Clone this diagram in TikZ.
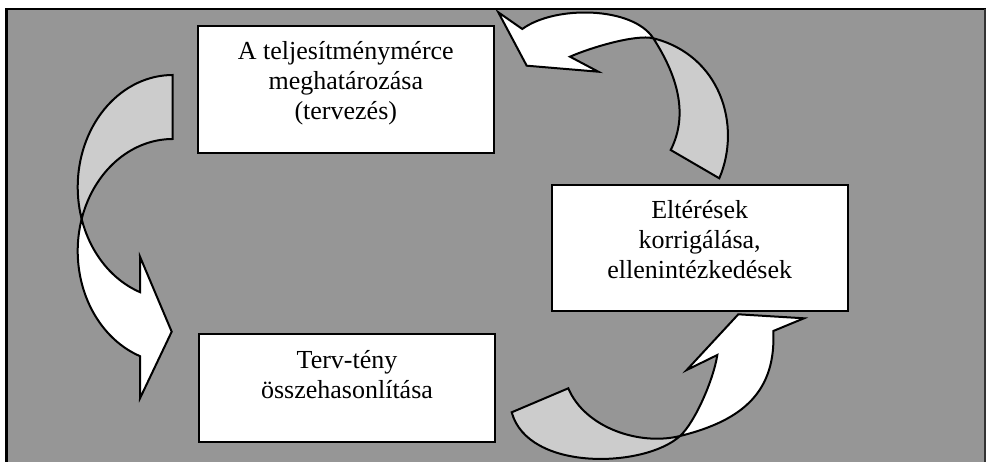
\documentclass[tikz,border=0pt]{standalone}
\usepackage{fontspec}
\setmainfont{Liberation Serif}

\definecolor{panel}{gray}{0.59}
\definecolor{ribbonback}{gray}{0.80}

% first row of a centred block sits on the baseline
\newcommand{\boxlines}[1]{\begin{tabular}[t]{@{}c@{}}#1\end{tabular}}

\tikzset{
  box/.style={draw=black, line width=2pt, fill=white, inner sep=0pt,
              minimum width=296pt},
  lbl/.style={inner sep=0pt, anchor=base,
              font=\fontsize{26}{30}\selectfont},
  frontface/.style={draw=black, line width=2pt, fill=white, line join=miter},
  backface/.style={draw=black, line width=2pt, fill=ribbonback, line join=miter}
}

\begin{document}
\begin{tikzpicture}[x=1pt, y=-1pt]
\useasboundingbox (0,0) rectangle (986,462);

% grey panel with its frame
\fill[panel] (7,9) rectangle (985,462);
\draw[line width=2.5pt] (6.5,462) -- (6.5,9) -- (986,9);
\draw[line width=1.5pt, black!80] (985,9) -- (985,462);

% the three boxes
\node[box, minimum height=127pt] (b1) at (345.8,89.5) {};
\node[box, minimum height=126.6pt] (b2) at (699.7,248) {};
\node[box, minimum height=108pt] (b3) at (347,388.3) {};

\node[lbl] (t1) at ([yshift=-34.5pt]b1.north)
  {\boxlines{A teljesítménymérce\\meghatározása\\(tervezés)}};
\node[lbl] (t2) at ([yshift=-34.5pt]b2.north)
  {\boxlines{Eltérések\\korrigálása,\\ellenintézkedések}};
\node[lbl] (t3) at ([yshift=-35.5pt]b3.north)
  {\boxlines{Terv-tény\\összehasonlítása}};

% left ribbon arrow: two equal ellipses shifted vertically
\draw[backface] (172.7,75)
  -- plot[domain=-90:-196.6, samples=40, variable=\t]
       ({172.7+95*cos(\t)},{187+112*sin(\t)})
  -- plot[domain=-163.4:-90, samples=40, variable=\t]
       ({172.7+95*cos(\t)},{251+112*sin(\t)})
  -- cycle;
\draw[frontface]
     plot[domain=-163.4:-249.9, samples=40, variable=\t]
       ({172.7+95*cos(\t)},{251+112*sin(\t)})
  -- (140,398.3) -- (171.7,331.7) -- (140,256.7)
  -- plot[domain=-249.9:-196.6, samples=40, variable=\t]
       ({172.7+95*cos(\t)},{187+112*sin(\t)})
  -- cycle;

% upper right ribbon arrow
\coordinate (xa) at (653.3,38.3);
\draw[backface] (xa)
  .. controls (675,72) and (690,112) .. (670.7,150)
  -- (719.3,178.3)
  .. controls (742,125) and (720,55) .. (xa) -- cycle;
\draw[frontface] (522.3,29)
  .. controls (555,5) and (632.8,6.4) .. (xa)
  .. controls (635.8,34) and (590,47.8) .. (570,56.7)
  -- (598.3,71.7) -- (526.7,65.7) -- (498.3,12.3) -- cycle;

% lower right ribbon arrow
\coordinate (xb) at (680,436);
\draw[backface] (511.7,412.3)
  .. controls (528,472) and (645,468) .. (xb)
  .. controls (640,446) and (585,428) .. (568.3,388.3) -- cycle;
\draw[frontface] (xb)
  .. controls (694.8,422.6) and (713.5,379.8) .. (717.3,355)
  -- (686.7,370) -- (738.3,314.3) -- (804,318.3) -- (773.3,331)
  .. controls (776,390) and (745,420) .. (xb) -- cycle;
\end{tikzpicture}
\end{document}
